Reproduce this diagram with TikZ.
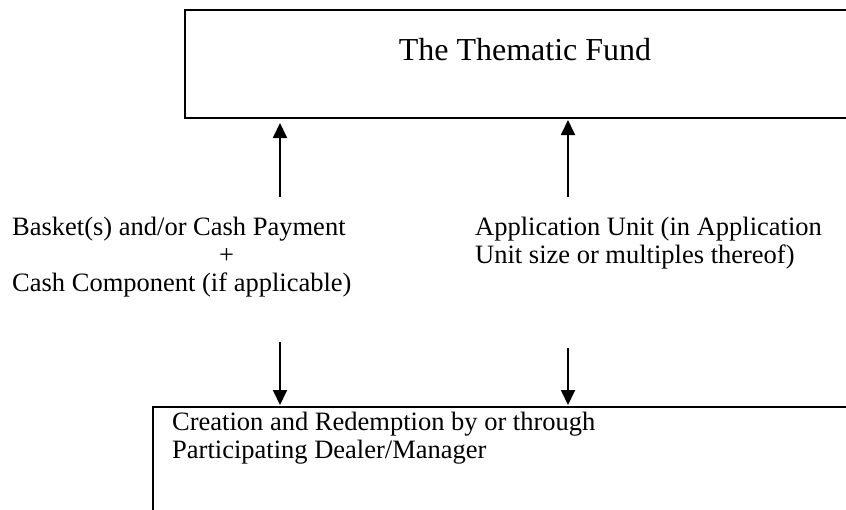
\documentclass[tikz,border=0pt]{standalone}
\usepackage{fontspec}
\setmainfont{Liberation Serif}
\usetikzlibrary{arrows.meta}
\begin{document}
\begin{tikzpicture}[x=1pt,y=-1pt,
  box/.style={draw, line width=1.6pt, inner sep=0pt},
  lbl/.style={font=\fontsize{26.5}{28}\selectfont, inner sep=0pt, anchor=base west},
  ttl/.style={font=\fontsize{32}{36}\selectfont, inner sep=0pt, anchor=base},
  arr/.style={line width=1.8pt, -{Triangle[length=15pt,width=14pt]}}]
\useasboundingbox (0,0) rectangle (846,509);
\clip (0,0) rectangle (846,509);
% boxes
\node[box, anchor=north west, minimum width=760pt, minimum height=108pt] (fund) at (184,9) {};
\node[ttl] (title) at (525,60) {The Thematic Fund};
\node[box, anchor=north west, minimum width=800pt, minimum height=160pt] (cr) at (152,406) {};
\node[lbl] (cr1) at (172,430) {Creation and Redemption by or through};
\node[lbl] (cr2) at (172,458) {Participating Dealer/Manager};
% labels
\node[lbl] (b1) at (12,235) {Basket(s) and/or Cash Payment};
\node[lbl] (b2) at (219,263) {+};
\node[lbl] (b3) at (12,291) {Cash Component (if applicable)};
\node[lbl] (a1) at (475,235) {Application Unit (in Application};
\node[lbl] (a2) at (475,263) {Unit size or multiples thereof)};
% arrow end points
\coordinate (uL) at (280,197);
\coordinate (uLt) at (280,123);
\coordinate (uR) at (568,197);
\coordinate (uRt) at (568,120);
\coordinate (dL) at (280,342);
\coordinate (dLt) at (280,405);
\coordinate (dR) at (568,348);
\coordinate (dRt) at (568,405);
\draw[arr] (uL) -- (uLt);
\draw[arr] (uR) -- (uRt);
\draw[arr] (dL) -- (dLt);
\draw[arr] (dR) -- (dRt);
\end{tikzpicture}
\end{document}
